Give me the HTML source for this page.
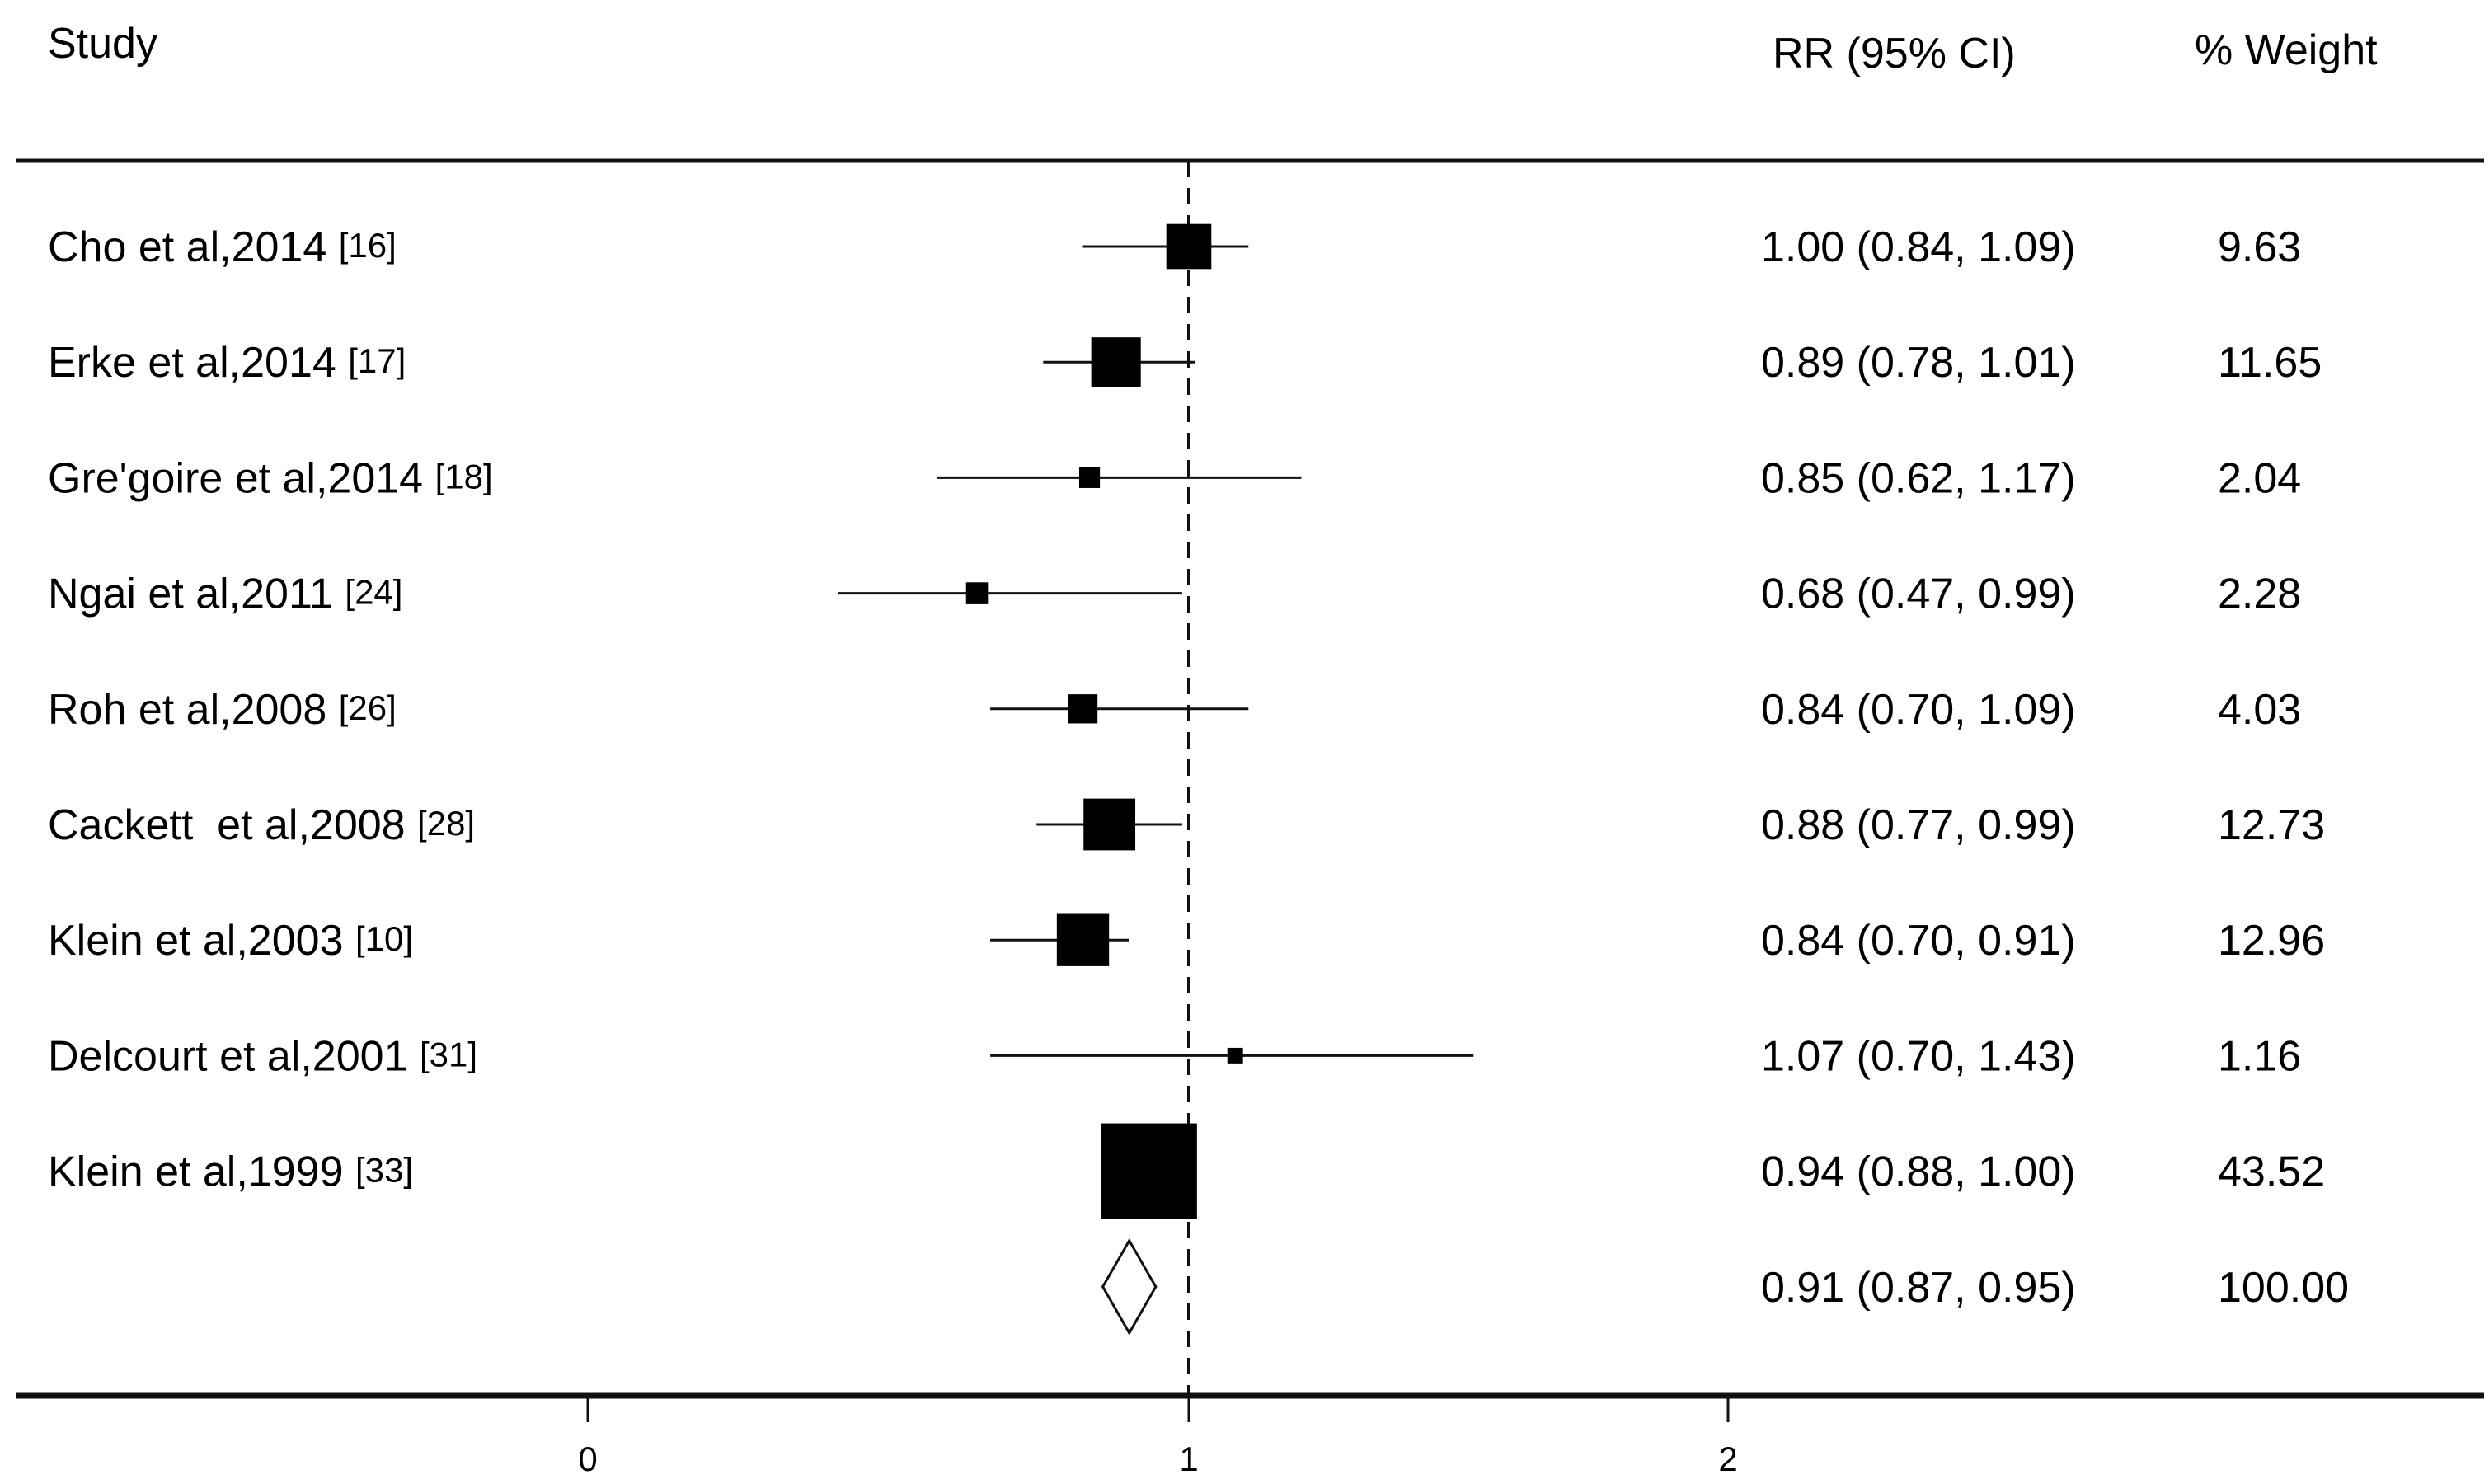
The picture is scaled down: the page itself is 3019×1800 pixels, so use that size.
<!DOCTYPE html>
<html><head><meta charset="utf-8"><style>
html,body{margin:0;padding:0;background:#fff;}
svg{display:block;font-family:"Liberation Sans",Arial,sans-serif;}
</style></head><body>
<svg id="chart" width="3019" height="1800" viewBox="0 0 3019 1800" xmlns="http://www.w3.org/2000/svg">
<text x="58" y="70" font-size="52">Study</text>
<text x="2150" y="82" font-size="52">RR (95% CI)</text>
<text x="2662" y="78" font-size="52">% Weight</text>
<line x1="19" y1="195" x2="3013" y2="195" stroke="#111" stroke-width="5"/>
<line x1="19" y1="1693" x2="3013" y2="1693" stroke="#111" stroke-width="7"/>
<g id="marks"></g>
</svg>
<script>
const studies = ["Cho et al,2014","Erke et al,2014","Gre'goire et al,2014","Ngai et al,2011","Roh et al,2008","Cackett\u00a0\u00a0et al,2008","Klein et al,2003","Delcourt et al,2001","Klein et al,1999"];
const refs = ["[16]","[17]","[18]","[24]","[26]","[28]","[10]","[31]","[33]"];
const rr = [1.00,0.89,0.85,0.68,0.84,0.88,0.84,1.07,0.94];
const lo = [0.84,0.78,0.62,0.47,0.70,0.77,0.70,0.70,0.88];
const hi = [1.09,1.01,1.17,0.99,1.09,0.99,0.91,1.43,1.00];
const weights = [9.63,11.65,2.04,2.28,4.03,12.73,12.96,1.16,43.52];
const pooled = [0.91,0.87,0.95];
const pooledWeight = "100.00";
const tickValues = [0,1,2];
const tickLabels = ["0","1","2"];

const NS="http://www.w3.org/2000/svg";
const g=document.getElementById('marks');
function x(v){return 1442+(v-1)*803;}
function tickX(v){return v<=1?713+(1442-713)*v:1442+(2096-1442)*(v-1);}
function rowY(i){return 299+i*140.2;}
function mk(tag,attrs,parent){const e=document.createElementNS(NS,tag);for(const k in attrs)e.setAttribute(k,attrs[k]);(parent||g).appendChild(e);return e;}
function fmt(v){return v.toFixed(2);}

const ref=mk('line',{x1:x(1),y1:195,x2:x(1),y2:1693,stroke:'#111','stroke-width':4,'stroke-dasharray':'20 13'});



studies.forEach((s,i)=>{
  const y=rowY(i);
  const t=mk('text',{x:58,y:y+18,'font-size':52});
  
  
  t.textContent=s+' ';
  const ts=mk('tspan',{'font-size':42,dy:-5},t);
  ts.textContent=refs[i];
  const ci=mk('line',{x1:x(lo[i]),y1:y,x2:x(hi[i]),y2:y,stroke:'#111','stroke-width':3});
  
  
  const sz=17.6*Math.sqrt(weights[i]);
  const b=mk('rect',{x:x(rr[i])-sz/2,y:y-sz/2,width:sz,height:sz,fill:'#000'});
  
  
  const r=mk('text',{x:2136,y:y+18,'font-size':52});
  
  
  r.textContent=fmt(rr[i])+' ('+fmt(lo[i])+', '+fmt(hi[i])+')';
  const w=mk('text',{x:2690,y:y+18,'font-size':52});
  
  
  w.textContent=fmt(weights[i]);
});
const py=rowY(9);
const d=mk('polygon',{points:`${x(pooled[1])},${py} ${x(pooled[0])},${py-56} ${x(pooled[2])},${py} ${x(pooled[0])},${py+56}`,fill:'#fff',stroke:'#111','stroke-width':3});


const pr=mk('text',{x:2136,y:py+18,'font-size':52});


pr.textContent=fmt(pooled[0])+' ('+fmt(pooled[1])+', '+fmt(pooled[2])+')';
const pw=mk('text',{x:2690,y:py+18,'font-size':52});


pw.textContent=pooledWeight;

tickValues.forEach((v,i)=>{
  const tx=tickX(v);
  const tk=mk('line',{x1:tx,y1:1693,x2:tx,y2:1725,stroke:'#111','stroke-width':3});
  
  
  const tl=mk('text',{x:tx,y:1784,'font-size':42,'text-anchor':'middle'});
  
  
  tl.textContent=tickLabels[i];
});
</script>
</body></html>
